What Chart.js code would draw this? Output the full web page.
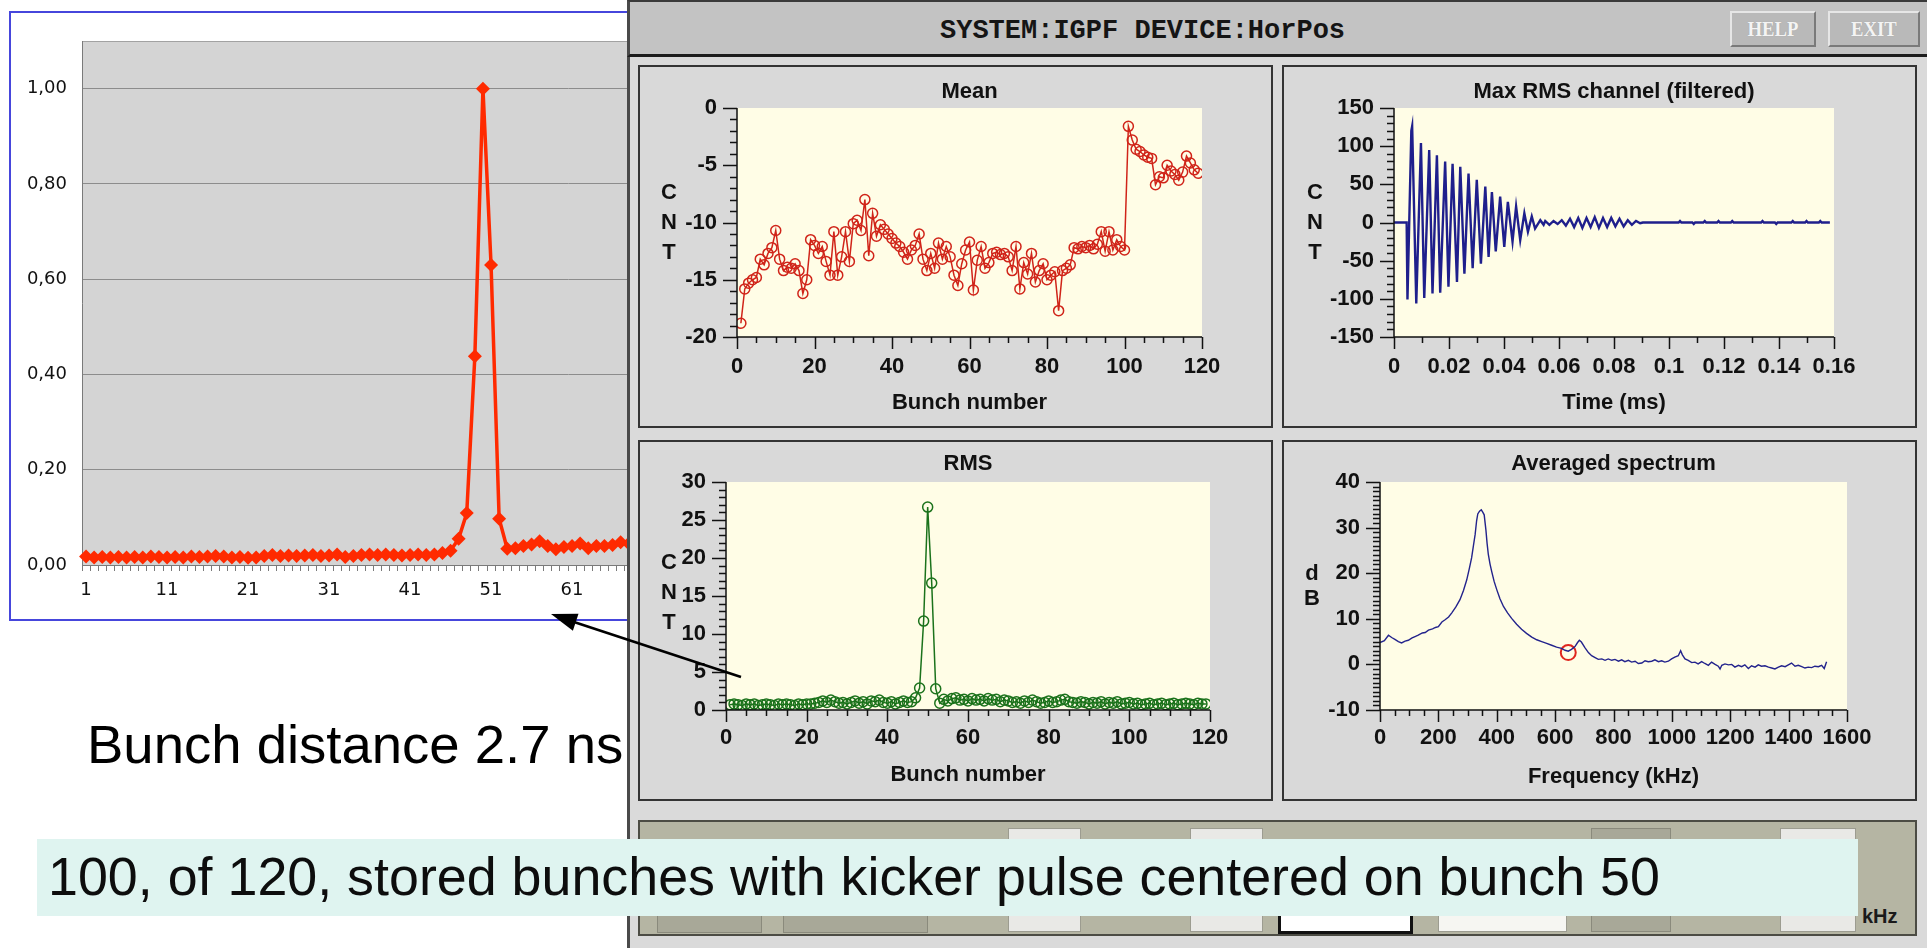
<!DOCTYPE html>
<html lang="en">
<head>
<meta charset="UTF-8">
<title>IGPF HorPos - kicker pulse on bunch 50</title>
<script src="https://cdn.jsdelivr.net/npm/chart.js"></script>
<style>
  body {
    margin: 0;
    width: 1927px;
    height: 948px;
    position: relative;
    overflow: hidden;
    background: #fff;
    font-family: 'Liberation Sans', Arial, sans-serif;
  }
  #excelBox {
    position: absolute; left: 9px; top: 11px; width: 1200px; height: 610px;
    border: 2px solid #4646dc; box-sizing: border-box; background: #fff;
  }
  #excelBox canvas { position: absolute; left: 0; top: 0; }

  #panel {
    position: absolute; left: 627px; top: 0; width: 1300px; height: 948px;
    background: #dadada; box-shadow: inset 3px 0 0 #4a4a4a;
  }
  .titlebar {
    position: absolute; left: 0; top: 0; width: 1300px; height: 57px;
    background: #c3c3c3; box-sizing: border-box;
    border-top: 2px solid #3a3a3a; border-left: 3px solid #4a4a4a; border-bottom: 3px solid #1c1c1c;
  }
  .titlebar .sys {
    position: absolute; left: 310px; top: 14px;
    font: bold 27px 'Liberation Mono', monospace; color: #151515; white-space: nowrap;
  }
  .btn {
    position: absolute; top: 9px; height: 36px; box-sizing: border-box;
    background: #b9b9b9; border: 2px solid; border-color: #e6e6e6 #7a7a7a #7a7a7a #e6e6e6;
    color: #f4f4f4; font: bold 22px 'Liberation Serif', serif; text-align: center; line-height: 32px;
    text-shadow: 0 0 1px #999;
  }
  .btn span { display: inline-block; transform: scaleX(0.85); }
  .box {
    position: absolute; width: 635px; box-sizing: border-box;
    border: 2px solid #343434; background: #d9d9d9;
  }
  .box canvas { position: absolute; left: 0; top: 0; }
  .strip {
    position: absolute; left: 11px; top: 820px; width: 1279px; height: 116px; box-sizing: border-box;
    background: #b5b5a3; border: 2px solid #4c4c44;
  }
  .strip div { position: absolute; box-sizing: border-box; }
  .fld { background: #e9e9e6; border: 1px solid #9c9c90; }
  .sunk { background: #a8a898; border: 1px solid #8a8a7c; }
  .strip .unit { font: bold 20px 'Liberation Sans', Arial, sans-serif; color: #1a1a1a; }

  .note {
    position: absolute; left: 87px; top: 718px;
    font-size: 54.5px; line-height: 54px; color: #000; white-space: nowrap;
  }
  .caption {
    position: absolute; left: 37px; top: 839px; width: 1821px; height: 77px;
    background: #dff4f0;
  }
  .caption span {
    position: absolute; left: 11px; top: 10px;
    font-size: 53.8px; line-height: 54px; color: #0d0d0d; white-space: nowrap;
  }
  #arrow { position: absolute; left: 0; top: 0; pointer-events: none; }
</style>
</head>
<body>

<div id="excelBox"><canvas id="excel" width="1100" height="606"></canvas></div>

<div id="panel">
  <div class="titlebar">
    <span class="sys">SYSTEM:IGPF DEVICE:HorPos</span>
    <div class="btn" style="left:1100px; width:86px;"><span>HELP</span></div>
    <div class="btn" style="left:1198px; width:92px;"><span>EXIT</span></div>
  </div>

  <div class="box" style="left:11px; top:65px; height:363px;"><canvas id="mean" width="631" height="359"></canvas></div>
  <div class="box" style="left:655px; top:65px; height:363px;"><canvas id="maxrms" width="631" height="359"></canvas></div>
  <div class="box" style="left:11px; top:440px; height:361px;"><canvas id="rms" width="631" height="357"></canvas></div>
  <div class="box" style="left:655px; top:440px; height:361px;"><canvas id="spectrum" width="631" height="357"></canvas></div>

  <div class="strip">
    <div class="sunk" style="left:17px; top:91px; width:105px; height:20px;"></div>
    <div class="sunk" style="left:143px; top:91px; width:145px; height:20px;"></div>
    <div class="fld" style="left:368px; top:6px; width:73px; height:104px;"></div>
    <div class="fld" style="left:550px; top:6px; width:73px; height:104px;"></div>
    <div class="fld" style="left:638px; top:90px; width:135px; height:22px; border:3px solid #111; background:#fff;"></div>
    <div class="fld" style="left:798px; top:90px; width:129px; height:20px; background:#f6f6f2;"></div>
    <div class="sunk" style="left:951px; top:6px; width:80px; height:104px;"></div>
    <div class="fld" style="left:1140px; top:6px; width:76px; height:104px;"></div>
    <div class="unit" style="left:1222px; top:83px;">kHz</div>
  </div>
</div>

<div class="note">Bunch distance 2.7 ns</div>
<div class="caption"><span>100, of 120, stored bunches with kicker pulse centered on bunch 50</span></div>

<svg id="arrow" width="1927" height="948">
  <line x1="741" y1="677" x2="574" y2="622" stroke="#000" stroke-width="2.5"/>
  <polygon points="551,614 578.5,613.7 572.9,630.7" fill="#000"/>
</svg>

<script>
// ---- spreadsheet plot: normalised kick response per bunch (bunches 1..120, first 68 shown)
const bunchLabels = Array.from({ length: 120 }, (_, i) => String(i + 1));
const kickNorm = [
  0.018, 0.016, 0.017, 0.016, 0.017, 0.016, 0.017, 0.016, 0.018, 0.017,
  0.016, 0.017, 0.016, 0.018, 0.017, 0.018, 0.019, 0.018, 0.016, 0.017,
  0.015, 0.016, 0.019, 0.021, 0.019, 0.020, 0.019, 0.020, 0.021, 0.019,
  0.020, 0.022, 0.017, 0.019, 0.021, 0.022, 0.021, 0.022, 0.021, 0.020,
  0.021, 0.022, 0.021, 0.022, 0.025, 0.030, 0.055, 0.109, 0.438, 1.000,
  0.630, 0.097, 0.034, 0.035, 0.040, 0.043, 0.050, 0.040, 0.033, 0.038,
  0.040, 0.045, 0.035, 0.040, 0.040, 0.042, 0.048, 0.045
];

// ---- IGPF panel data
const bunchNo = Array.from({ length: 119 }, (_, i) => i + 1);
const meanCnt = [
  -18.8, -15.8, -15.3, -15.0, -14.8, -13.2, -13.7, -12.7, -12.2, -10.7,
  -13.2, -14.2, -13.9, -14.0, -13.6, -14.2, -16.2, -15.0, -11.5, -12.0,
  -12.7, -12.1, -13.4, -14.6, -10.8, -14.6, -13.0, -10.8, -13.4, -10.1,
  -9.8, -10.7, -8.0, -12.9, -9.2, -11.2, -10.2, -10.6, -11.0, -11.4,
  -11.8, -12.1, -12.6, -13.2, -12.4, -12.0, -11.0, -13.2, -14.2, -12.7,
  -14.0, -11.8, -13.2, -12.1, -13.0, -14.6, -15.5, -13.6, -12.4, -11.7,
  -15.9, -13.3, -12.1, -14.0, -13.5, -12.7, -12.6, -12.8, -12.7, -13.0,
  -14.2, -12.1, -15.8, -13.5, -14.5, -12.7, -15.2, -14.2, -13.6, -15.0,
  -14.6, -14.3, -17.7, -14.2, -14.0, -13.7, -12.2, -12.3, -12.1, -12.2,
  -12.0, -12.3, -11.9, -10.8, -12.5, -10.8, -12.4, -11.5, -12.1, -12.4,
  -1.6, -2.8, -3.6, -3.8, -4.1, -4.3, -4.4, -6.7, -6.0, -6.1,
  -5.0, -5.5, -5.8, -6.3, -5.6, -4.2, -4.8, -5.4, -5.7
];
const rmsCnt = [
  0.7, 0.8, 0.7, 0.6, 0.8, 0.7, 0.8, 0.6, 0.7, 0.8,
  0.7, 0.6, 0.8, 0.7, 0.8, 0.7, 0.6, 0.8, 0.7, 0.8,
  0.8, 0.9, 1.0, 1.2, 1.0, 1.3, 1.1, 0.9, 1.0, 0.8,
  1.0, 1.2, 0.9, 1.1, 0.8, 1.2, 1.1, 1.3, 1.0, 0.9,
  1.1, 0.8, 1.0, 1.2, 1.0, 1.1, 1.6, 2.9, 11.7, 26.7,
  16.7, 2.8, 0.9, 1.4, 1.2, 1.5, 1.6, 1.3, 1.4, 1.2,
  1.5, 1.3, 1.4, 1.2, 1.5, 1.3, 1.4, 1.1, 1.3, 1.2,
  1.0, 1.1, 0.9, 1.2, 1.0, 1.3, 1.1, 0.9, 1.0, 1.2,
  1.0, 1.1, 1.3, 1.4, 1.1, 1.0, 0.9, 1.1, 1.0, 0.8,
  1.0, 0.9, 1.1, 0.8, 1.0, 0.9, 1.1, 0.8, 0.9, 1.0,
  0.8, 0.9, 0.7, 0.8, 0.9, 0.7, 0.8, 0.9, 0.7, 0.8,
  0.9, 0.7, 0.8, 0.9, 0.8, 0.7, 0.9, 0.8, 0.8
];

// max-RMS channel, turning points of the filtered trace
const timeMs = [
  0, 0.0046, 0.0049, 0.0063, 0.0066, 0.0081, 0.0098, 0.0110, 0.0128, 0.0140,
  0.0156, 0.0168, 0.0186, 0.0198, 0.0213, 0.0229, 0.0241, 0.0256, 0.0271, 0.0286,
  0.0301, 0.0316, 0.0332, 0.0344, 0.0356, 0.0370, 0.0386, 0.0401, 0.0414, 0.0431,
  0.0444, 0.0459, 0.0474, 0.0487, 0.0501, 0.0513, 0.0532, 0.0544,
  0.0550, 0.0565, 0.0580, 0.0595, 0.0610, 0.0625, 0.0640, 0.0655, 0.0670, 0.0685,
  0.0700, 0.0715, 0.0730, 0.0745, 0.0760, 0.0775, 0.0790, 0.0805, 0.0820, 0.0835,
  0.0850, 0.0865, 0.0880, 0.0895, 0.0905,
  0.1035, 0.1040, 0.1045, 0.1085, 0.1090, 0.1095, 0.1125, 0.1130, 0.1135, 0.1175,
  0.1180, 0.1185, 0.1225, 0.1230, 0.1235, 0.1335, 0.1340, 0.1345, 0.1385, 0.1390,
  0.1395, 0.1445, 0.1450, 0.1455, 0.1495, 0.1500, 0.1505, 0.1545, 0.1550, 0.1555,
  0.1585
];
const traceCnt = [
  0, 0, -101, 120, 126, -106, 104, -99, 95, -93,
  88, -92, 80, -84, 77, -78, 73, -67, 64, -60,
  56, -54, 47, -45, 40, -38, 34, -32, 27, -25,
  21, -23, 12, -12, 8, -8, 3, -3,
  2, -3, 2, -2, 3, -4, 5, -6, 6, -7,
  6, -6, 7, -7, 6, -6, 6, -5, 5, -5,
  3, -3, 2, -1, 0,
  0, 2, 0, 0, -2, 0, 0, 2, 0, 0,
  2, 0, 0, 2, 0, 0, 2, 0, 0, -2,
  0, 0, 2, 0, 0, 2, 0, 0, 2, 0,
  0
];

// averaged spectrum
const freqKHz = [
  0, 15, 29, 40, 51, 63, 74, 86, 97, 110, 120, 131, 145, 155, 166, 180, 190, 200,
  212, 223, 235, 246, 260, 274, 286, 297, 306, 314, 320, 326, 331, 335, 341, 347,
  352, 357, 363, 367, 371, 377, 383, 391, 400, 411, 423, 437, 451, 468, 485, 502,
  520, 537, 554, 571, 588, 605, 622, 634, 645, 656, 668, 677, 683, 690, 702, 714,
  725, 737, 748, 760, 771, 782, 794, 805, 817, 828, 839, 851, 862, 874, 885, 897,
  908, 919, 931, 942, 954, 965, 976, 988, 999, 1010, 1022, 1030, 1036, 1045, 1056,
  1068, 1079, 1090, 1102, 1113, 1125, 1136, 1148, 1159, 1165, 1171, 1182, 1194,
  1205, 1216, 1228, 1239, 1250, 1262, 1273, 1285, 1296, 1307, 1319, 1331, 1342,
  1353, 1365, 1376, 1388, 1399, 1410, 1422, 1433, 1445, 1456, 1467, 1479, 1490,
  1502, 1513, 1522, 1530
];
const levelDb = [
  4.8, 5.2, 6.4, 5.9, 5.5, 5.0, 4.7, 5.1, 5.3, 5.8, 6.1, 6.4, 6.9, 7.0, 7.5, 7.8, 8.1, 8.3,
  9.3, 9.8, 10.4, 11.3, 12.6, 14.2, 16.2, 18.5, 21.0, 23.4, 26.0, 28.5, 31.5, 33.0, 33.6, 33.9,
  33.4, 32.8, 29.4, 26.5, 24.2, 22.0, 20.3, 18.2, 16.4, 14.4, 12.7, 11.3, 10.1, 8.8, 7.7, 6.8,
  6.0, 5.4, 5.0, 4.6, 4.2, 3.8, 3.5, 3.1, 2.9, 3.3, 3.9, 4.8, 5.3, 4.9, 3.7, 2.6,
  1.9, 1.5, 1.1, 1.2, 0.9, 1.2, 0.9, 1.1, 0.7, 1.0, 0.6, 0.9, 0.5, 0.7, 0.2, 0.3,
  0.8, 0.6, 0.7, 1.0, 0.6, 0.8, 0.5, 0.7, 1.2, 1.6, 1.9, 3.0, 2.1, 1.2, 0.9,
  0.4, 0.5, 0.1, 0.6, 0.2, -0.2, 0.5, 0.0, -0.4, -1.0, -0.2, 0.1, -0.1,
  0.0, -0.6, -0.2, -0.5, -0.1, -0.9, -0.3, -0.6, -0.1, -0.4, -0.3, -0.6, -0.8,
  -1.0, -0.6, -0.3, -0.5, -0.1, 0.3, -0.4, -0.2, -0.5, -0.8, -0.6, -0.7, -0.4,
  -0.5, -0.2, -0.9, 0.6
];
const cursorKHz = [645];
const cursorDb = [2.6];

const INK = '#111';
const PANEL_FONT = { family: "'Liberation Sans', Arial, sans-serif", size: 22, weight: 'bold' };
const pairs = (xs, ys) => ys.map((v, i) => ({ x: xs[i], y: v }));

// cream plot area, axis combs with major/minor ticks and stacked axis letters
const panelAxes = {
  id: 'panelAxes',
  beforeDraw(chart, args, opts) {
    const { ctx, chartArea: a } = chart;
    ctx.save();
    ctx.fillStyle = opts.plotColor;
    ctx.fillRect(a.left, a.top, a.right - a.left, a.bottom - a.top);
    ctx.restore();
  },
  afterDraw(chart, args, opts) {
    const { ctx, chartArea: a, scales: { x, y } } = chart;
    const isMajor = (v, step) => Math.abs(v / step - Math.round(v / step)) < 1e-6;
    ctx.save();
    ctx.strokeStyle = INK;
    ctx.lineWidth = 1.5;
    ctx.beginPath();
    ctx.moveTo(a.left, a.top);
    ctx.lineTo(a.left, a.bottom);
    ctx.lineTo(a.right, a.bottom);
    const ny = Math.round((y.max - y.min) / opts.yMinor);
    for (let i = 0; i <= ny; i++) {
      const v = y.min + i * opts.yMinor;
      const py = Math.round(y.getPixelForValue(v)) + 0.5;
      const len = isMajor(v, opts.yMajor) ? 14 : 7;
      ctx.moveTo(a.left - len, py);
      ctx.lineTo(a.left, py);
    }
    const nx = Math.round((x.max - x.min) / opts.xMinor);
    for (let i = 0; i <= nx; i++) {
      const v = x.min + i * opts.xMinor;
      const px = Math.round(x.getPixelForValue(v)) + 0.5;
      const len = isMajor(v, opts.xMajor) ? 12 : 6;
      ctx.moveTo(px, a.bottom);
      ctx.lineTo(px, a.bottom + len);
    }
    ctx.stroke();

    ctx.fillStyle = INK;
    ctx.font = `bold 22px ${PANEL_FONT.family}`;
    ctx.textAlign = 'center';
    ctx.textBaseline = 'middle';
    const mid = (a.top + a.bottom) / 2 + opts.letterShift;
    const n = opts.letters.length;
    opts.letters.forEach((ch, i) => {
      ctx.fillText(ch, opts.letterX, mid + (i - (n - 1) / 2) * opts.letterGap);
    });
    ctx.restore();
  }
};

function panelChart(id, o) {
  const canvas = document.getElementById(id);
  return new Chart(canvas, {
    type: 'line',
    data: { datasets: o.datasets },
    options: {
      responsive: false,
      animation: false,
      layout: { padding: { left: 0, top: 0, right: canvas.width - o.area.right, bottom: 0 } },
      plugins: {
        legend: { display: false },
        tooltip: { enabled: false },
        title: {
          display: true, text: o.title, fullSize: false, color: INK, font: PANEL_FONT,
          padding: { top: o.titleTop, bottom: o.area.top - o.titleTop - 26.4 }
        },
        panelAxes: {
          plotColor: '#fffde6',
          letters: o.letters, letterX: o.letterX, letterGap: o.letterGap, letterShift: o.letterShift,
          xMajor: o.x.step, xMinor: o.x.minor, yMajor: o.y.step, yMinor: o.y.minor
        }
      },
      scales: {
        x: {
          type: 'linear', min: o.x.min, max: o.x.max,
          afterFit: s => { s.height = canvas.height - o.area.bottom; },
          grid: { display: false, drawTicks: false },
          border: { display: false },
          ticks: {
            stepSize: o.x.step, padding: o.x.pad, color: INK, font: PANEL_FONT,
            maxRotation: 0, autoSkip: false, callback: v => String(+v.toFixed(3))
          },
          title: { display: true, text: o.x.title, color: INK, font: PANEL_FONT, padding: { top: 0, bottom: o.x.titlePad } }
        },
        y: {
          type: 'linear', min: o.y.min, max: o.y.max,
          afterFit: s => { s.width = o.area.left; },
          grid: { display: false, drawTicks: false },
          border: { display: false },
          ticks: { stepSize: o.y.step, padding: 20, color: INK, font: PANEL_FONT, callback: v => String(v) }
        }
      }
    },
    plugins: [panelAxes]
  });
}

// ---- spreadsheet chart
const plotFill = {
  id: 'plotFill',
  beforeDraw(chart, args, opts) {
    const { ctx, chartArea: a } = chart;
    ctx.save();
    ctx.fillStyle = opts.color;
    ctx.fillRect(a.left, a.top, a.right - a.left, a.bottom - a.top);
    ctx.strokeStyle = '#a2a2a2';
    ctx.lineWidth = 1;
    ctx.beginPath();
    ctx.moveTo(a.left, a.top + 0.5);
    ctx.lineTo(a.right, a.top + 0.5);
    ctx.stroke();
    ctx.restore();
  }
};

const excelCanvas = document.getElementById('excel');
new Chart(excelCanvas, {
  type: 'line',
  data: {
    labels: bunchLabels,
    datasets: [{
      data: kickNorm,
      borderColor: '#ff2a00',
      backgroundColor: '#ff2a00',
      borderWidth: 3.5,
      pointStyle: 'rectRot',
      pointRadius: 7,
      pointBorderWidth: 0,
      tension: 0
    }]
  },
  options: {
    responsive: false,
    animation: false,
    layout: { padding: { left: 0, top: 28, right: excelCanvas.width - 1043, bottom: 0 } },
    plugins: { legend: { display: false }, tooltip: { enabled: false }, plotFill: { color: '#d4d4d4' } },
    scales: {
      x: {
        type: 'category',
        offset: true,
        afterFit: s => { s.height = excelCanvas.height - 552; },
        grid: { offset: true, drawOnChartArea: false, drawTicks: true, tickLength: 6, color: '#7a7a7a' },
        border: { display: true, color: '#7a7a7a', width: 1 },
        ticks: {
          autoSkip: false, maxRotation: 0, padding: 9, color: '#111',
          font: { family: "'DejaVu Sans', sans-serif", size: 18 },
          callback: function (v, i) { return i % 10 === 0 ? this.getLabelForValue(v) : ''; }
        }
      },
      y: {
        min: 0, max: 1.1,
        afterFit: s => { s.width = 71; },
        grid: { color: '#8c8c8c', drawTicks: false },
        border: { display: true, color: '#7a7a7a', width: 1 },
        ticks: {
          stepSize: 0.2, includeBounds: false, padding: 15, color: '#111',
          font: { family: "'DejaVu Sans', sans-serif", size: 18 },
          callback: v => v.toFixed(2).replace('.', ',')
        }
      }
    }
  },
  plugins: [plotFill]
});

// ---- panel: Mean
panelChart('mean', {
  title: 'Mean', titleTop: 12,
  area: { left: 97, right: 562, top: 41, bottom: 270 },
  letters: ['C', 'N', 'T'], letterX: 29, letterGap: 30, letterShift: 0,
  x: { min: 0, max: 120, step: 20, minor: 5, pad: 17, title: 'Bunch number', titlePad: 10 },
  y: { min: -20, max: 0, step: 5, minor: 1 },
  datasets: [{
    data: pairs(bunchNo, meanCnt),
    borderColor: '#d02419', borderWidth: 1.5, tension: 0,
    pointRadius: 5, pointBorderWidth: 1.5, pointBorderColor: '#d02419', pointBackgroundColor: 'rgba(0,0,0,0)'
  }]
});

// ---- panel: Max RMS channel
panelChart('maxrms', {
  title: 'Max RMS channel (filtered)', titleTop: 12,
  area: { left: 110, right: 550, top: 41, bottom: 270 },
  letters: ['C', 'N', 'T'], letterX: 31, letterGap: 30, letterShift: 0,
  x: { min: 0, max: 0.16, step: 0.02, minor: 0.01, pad: 17, title: 'Time (ms)', titlePad: 10 },
  y: { min: -150, max: 150, step: 50, minor: 10 },
  datasets: [{
    data: pairs(timeMs, traceCnt),
    borderColor: '#1f1f8c', borderWidth: 2.4, tension: 0, pointRadius: 0
  }]
});

// ---- panel: RMS
panelChart('rms', {
  title: 'RMS', titleTop: 9,
  area: { left: 86, right: 570, top: 40, bottom: 268 },
  letters: ['C', 'N', 'T'], letterX: 29, letterGap: 30, letterShift: -3,
  x: { min: 0, max: 120, step: 20, minor: 5, pad: 15, title: 'Bunch number', titlePad: 11 },
  y: { min: 0, max: 30, step: 5, minor: 1 },
  datasets: [{
    data: pairs(bunchNo, rmsCnt),
    borderColor: '#1b721b', borderWidth: 1.5, tension: 0,
    pointRadius: 5, pointBorderWidth: 1.5, pointBorderColor: '#1b721b', pointBackgroundColor: 'rgba(0,0,0,0)'
  }]
});

// ---- panel: Averaged spectrum
panelChart('spectrum', {
  title: 'Averaged spectrum', titleTop: 9,
  area: { left: 96, right: 563, top: 40, bottom: 268 },
  letters: ['d', 'B'], letterX: 28, letterGap: 25, letterShift: -10,
  x: { min: 0, max: 1600, step: 200, minor: 50, pad: 15, title: 'Frequency (kHz)', titlePad: 9 },
  y: { min: -10, max: 40, step: 10, minor: 1 },
  datasets: [{
    data: pairs(freqKHz, levelDb),
    borderColor: '#23238c', borderWidth: 1.4, tension: 0, pointRadius: 0
  }, {
    data: pairs(cursorKHz, cursorDb),
    showLine: false, pointRadius: 7.5, pointBorderWidth: 2,
    pointBorderColor: '#e0261e', pointBackgroundColor: 'rgba(0,0,0,0)'
  }]
});
</script>
</body>
</html>
